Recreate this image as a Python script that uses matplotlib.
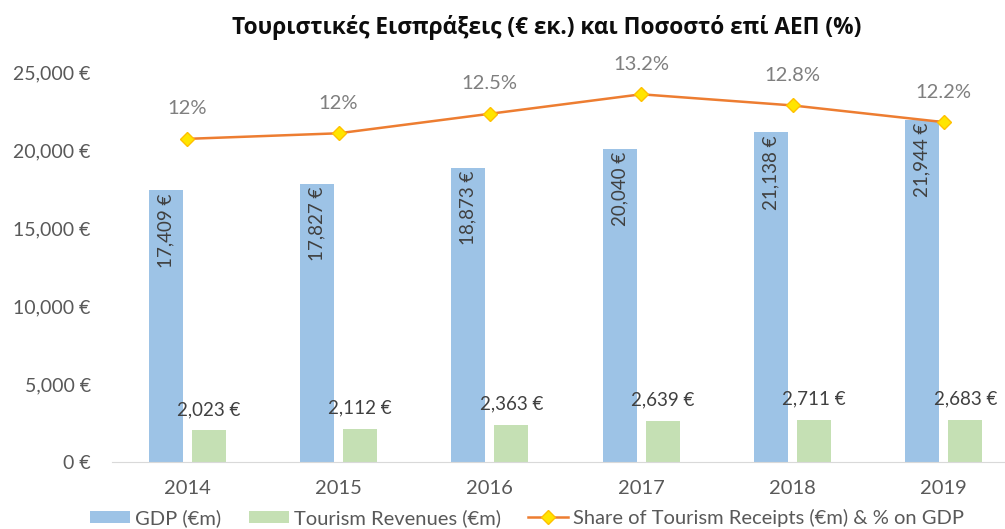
import matplotlib.pyplot as plt
import numpy as np

# chart data
years = ['2014', '2015', '2016', '2017', '2018', '2019']
gdp = [17409, 17827, 18873, 20040, 21138, 21944]
tourism = [2023, 2112, 2363, 2639, 2711, 2683]
share = [0.116, 0.118, 0.125, 0.132, 0.128, 0.122]
share_labels = ['12%', '12%', '12.5%', '13.2%', '12.8%', '12.2%']
y_ticks = [0, 5000, 10000, 15000, 20000, 25000]

plt.rcParams['font.family'] = ['Lato', 'Noto Sans', 'DejaVu Sans']

W, H = 1005, 529
fig = plt.figure(figsize=(W / 100, H / 100), dpi=100)

# axes placed in pixels; the right edge runs past the figure like the source crop
left, bottom, top, right = 111.5, 67, 457, 1019.5
ax = fig.add_axes([left / W, bottom / H, (right - left) / W, (top - bottom) / H])
ax2 = ax.twinx()

x = np.arange(len(years))
bw = 0.225
off = 0.143

ax.bar(x - off, gdp, bw, color='#9DC3E6', label='GDP (€m)')
ax.bar(x + off, tourism, bw, color='#C5E0B4', label='Tourism Revenues (€m)')

ax2.plot(x, share, color='#ED7D31', lw=1.8, marker='D', ms=7,
         mfc='#FFE500', mec='#FFC000', mew=1,
         label='Share of Tourism Receipts (€m) & % on GDP')

# data labels
for xi, v in zip(x, gdp):
    ax.annotate(f'{v:,} €', (xi - off, v), xytext=(0, -2), textcoords='offset points',
                rotation=90, ha='center', va='top', fontsize=13.5, color='#404040')
for xi, v in zip(x, tourism):
    ax.annotate(f'{v:,} €', (xi + off, v), xytext=(0, 9), textcoords='offset points',
                ha='center', va='bottom', fontsize=13.5, color='#404040')
for xi, v, s in zip(x, share, share_labels):
    ax2.annotate(s, (xi, v), xytext=(0, 21.5), textcoords='offset points',
                 ha='center', va='center', fontsize=14.5, color='#7F7F7F')

ax.set_xlim(-0.5, len(years) - 0.5)
ax.set_ylim(0, 25000)
ax2.set_ylim(0, 0.14)

ax.set_xticks(x)
ax.set_xticklabels(years)
ax.set_yticks(y_ticks)
ax.set_yticklabels([f'{v:,} €' for v in y_ticks])
ax.tick_params(axis='y', length=0, labelsize=14, colors='#595959', pad=15)
ax.tick_params(axis='x', length=0, labelsize=14.5, colors='#595959', pad=13)
ax2.set_yticks([])

for a in (ax, ax2):
    for side in ('top', 'right', 'left'):
        a.spines[side].set_visible(False)
ax2.spines['bottom'].set_visible(False)
ax.spines['bottom'].set_color('#D9D9D9')

fig.text(547 / W, 1 - 28 / H, 'Τουριστικές Εισπράξεις (€ εκ.) και Ποσοστό επί ΑΕΠ (%)',
         ha='center', va='center', fontsize=16.3, fontweight='bold', color='#0D0D0D',
         family=['Open Sans', 'DejaVu Sans'])

h1, l1 = ax.get_legend_handles_labels()
h2, l2 = ax2.get_legend_handles_labels()
fig.legend(h1 + h2, l1 + l2, loc='center left', bbox_to_anchor=(82 / W, 1 - 518 / H),
           borderaxespad=0, ncol=3, frameon=False, fontsize=14.5, labelcolor='#595959',
           handlelength=2.0, handleheight=0.6, handletextpad=0.25, columnspacing=1.35)

fig.savefig('out.png', dpi=100)
